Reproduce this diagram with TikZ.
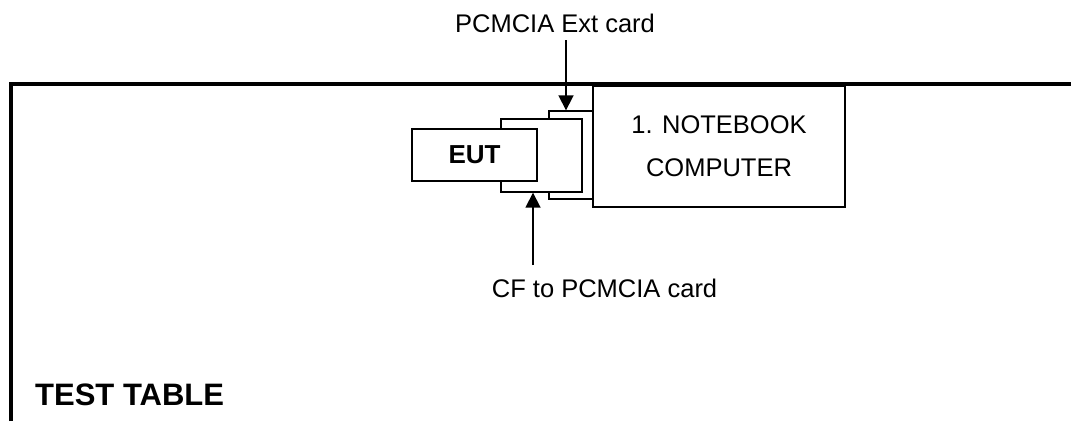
\documentclass[tikz,border=0pt]{standalone}
\usepackage{fontspec}
\setmainfont{Liberation Sans}
\usetikzlibrary{arrows.meta}
\begin{document}
\begin{tikzpicture}[x=1pt,y=-1pt,
  card/.style={draw, fill=white, line width=1.4pt},
  lbl/.style={font=\fontsize{25.5}{30}\selectfont, inner sep=0pt},
  pointer/.style={line width=1.8pt, -{Triangle[length=15pt,width=15pt]}},
  tableedge/.style={line width=4pt}]
\useasboundingbox (0,0) rectangle (1071,421);
% test table edge
\coordinate (tl) at (10.5,84);
\coordinate (tr) at (1071,84);
\coordinate (bl) at (10.5,421);
\draw[tableedge] (bl) -- (tl) -- (tr);
% cards
\node[card, minimum width=44pt, minimum height=88pt, inner sep=0pt] (pcm) at (571,155) {};
\node[card, minimum width=252pt, minimum height=121pt, align=center, lbl,
      font=\fontsize{25.5}{43}\selectfont] (nb) at (719,146.5) {1. NOTEBOOK\\COMPUTER};
\node[card, minimum width=81pt, minimum height=73pt, inner sep=0pt] (cf) at (541.5,155.5) {};
\node[card, minimum width=125pt, minimum height=52pt, inner sep=0pt,
      font=\bfseries\fontsize{26}{30}\selectfont] (eut) at (474.5,155) {EUT};
% labels
\node[lbl, anchor=base] (lpcm) at (555,32) {PCMCIA Ext card};
\node[lbl, anchor=base west] (lcf) at (491.7,297) {CF to PCMCIA card};
\node[inner sep=0pt, anchor=base west, font=\bfseries\fontsize{31}{36}\selectfont] (tt) at (35,405.5) {TEST TABLE};
% pointers
\coordinate (p1) at (566,40);
\coordinate (p2) at (533,265);
\draw[pointer] (p1) -- (p1 |- pcm.north);
\draw[pointer] (p2) -- (p2 |- cf.south);
\end{tikzpicture}
\end{document}
